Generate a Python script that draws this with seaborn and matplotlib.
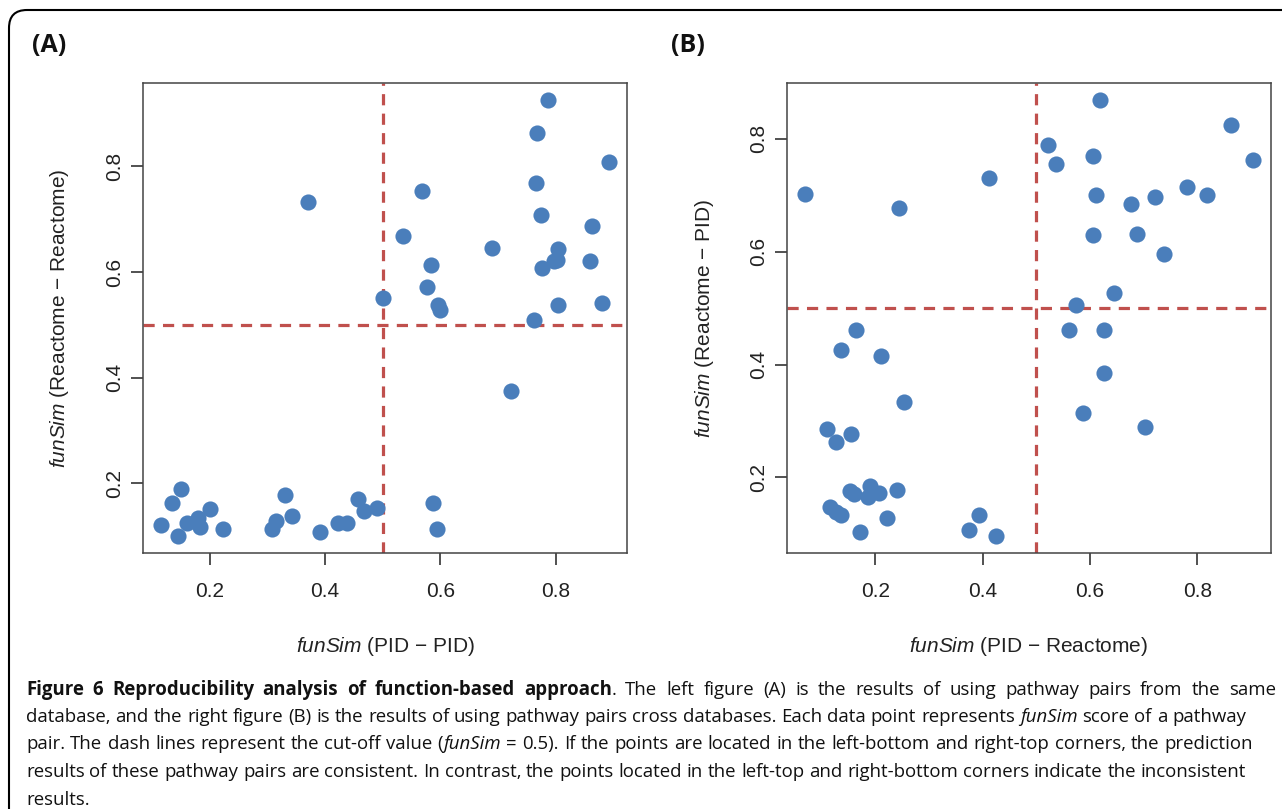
import re
import numpy as np
import pandas as pd
import seaborn as sns
import matplotlib.pyplot as plt
from matplotlib.patches import FancyBboxPatch
from matplotlib.transforms import IdentityTransform, blended_transform_factory
from matplotlib.textpath import TextToPath
from matplotlib.font_manager import FontProperties

# panel A: pathway pairs from the same database
a_x = [0.787, 0.768, 0.893, 0.767, 0.569, 0.371, 0.774, 0.863, 0.535, 0.690,
       0.804, 0.803, 0.798, 0.776, 0.584, 0.860, 0.577, 0.500, 0.596, 0.599,
       0.805, 0.880, 0.763, 0.722,
       0.150, 0.135, 0.201, 0.115, 0.144, 0.161, 0.180, 0.183, 0.223, 0.331,
       0.314, 0.308, 0.343, 0.391, 0.422, 0.438, 0.457, 0.467, 0.490, 0.588,
       0.595]
a_y = [0.925, 0.864, 0.809, 0.769, 0.753, 0.733, 0.708, 0.687, 0.668, 0.645,
       0.643, 0.622, 0.621, 0.607, 0.613, 0.620, 0.571, 0.550, 0.537, 0.529,
       0.537, 0.542, 0.509, 0.375,
       0.190, 0.162, 0.152, 0.122, 0.101, 0.124, 0.134, 0.118, 0.114, 0.177,
       0.128, 0.114, 0.139, 0.108, 0.124, 0.124, 0.170, 0.148, 0.153, 0.162,
       0.114]

# panel B: pathway pairs across databases
b_x = [0.618, 0.862, 0.522, 0.606, 0.536, 0.904, 0.412, 0.069, 0.245, 0.780,
       0.612, 0.722, 0.819, 0.676, 0.606, 0.687, 0.738, 0.645, 0.575, 0.165,
       0.561, 0.626, 0.136, 0.210, 0.627, 0.254, 0.587, 0.702, 0.111, 0.155,
       0.126, 0.153, 0.161, 0.191, 0.186, 0.207, 0.240, 0.116, 0.126, 0.136,
       0.222, 0.171, 0.393, 0.375, 0.425]
b_y = [0.868, 0.824, 0.789, 0.770, 0.756, 0.762, 0.730, 0.703, 0.677, 0.714,
       0.701, 0.697, 0.701, 0.685, 0.630, 0.632, 0.596, 0.526, 0.505, 0.462,
       0.462, 0.462, 0.425, 0.416, 0.385, 0.334, 0.314, 0.290, 0.286, 0.277,
       0.262, 0.176, 0.170, 0.185, 0.165, 0.173, 0.178, 0.147, 0.139, 0.133,
       0.128, 0.103, 0.134, 0.107, 0.097]

ticks = [0.2, 0.4, 0.6, 0.8]
tick_labels = ["0.2", "0.4", "0.6", "0.8"]
cutoff = 0.5

panels = [
    ("(A)", a_x, a_y, "(PID \u2212 PID)", "(Reactome \u2212 Reactome)"),
    ("(B)", b_x, b_y, "(PID \u2212 Reactome)", "(Reactome \u2212 PID)"),
]

W, H = 1282, 809
PT = "#4a7ebb"
RED = "#c0504d"
TICK_PX = 12

sns.set_theme(style="ticks")
plt.rcParams["font.family"] = ["Liberation Sans", "DejaVu Sans"]
plt.rcParams["mathtext.fontset"] = "custom"
plt.rcParams["mathtext.it"] = "Liberation Sans:italic"
plt.rcParams["mathtext.rm"] = "Liberation Sans"

fig = plt.figure(figsize=(W / 100, H / 100), dpi=100)
fig.patch.set_facecolor("white")

# rounded frame round the whole figure
frame = FancyBboxPatch((9, -40), 1320, H - 10 + 40,
                       boxstyle="round,pad=0,rounding_size=18",
                       transform=IdentityTransform(), fill=False,
                       edgecolor="black", linewidth=1.5)
fig.add_artist(frame)

lefts = [143, 787]
for (tag, xs, ys, xl, yl), left in zip(panels, lefts):
    ax = fig.add_axes([left / W, 1 - 553 / H, 484 / W, 470 / H])
    df = pd.DataFrame({"x": xs, "y": ys})
    ax.axvline(cutoff, color=RED, lw=2.3, ls=(0, (3.5, 2.6)), zorder=1)
    ax.axhline(cutoff, color=RED, lw=2.3, ls=(0, (3.5, 2.6)), zorder=1)
    sns.scatterplot(data=df, x="x", y="y", ax=ax, s=135, color=PT,
                    linewidth=0, zorder=3)

    # R style: 4% padding around the data range
    xr = max(xs) - min(xs)
    yr = max(ys) - min(ys)
    ax.set_xlim(min(xs) - 0.04 * xr, max(xs) + 0.04 * xr)
    ax.set_ylim(min(ys) - 0.04 * yr, max(ys) + 0.04 * yr)

    ax.set_xticks(ticks)
    ax.set_xticklabels(tick_labels)
    ax.set_yticks(ticks)
    ax.set_yticklabels(tick_labels, rotation=90, va="center")
    # built-in tick marks get lost next to the caption, so draw them as lines
    ax.tick_params(axis="both", which="major", length=0,
                   labelsize=15, labelcolor="#222222")
    ax.tick_params(axis="x", pad=12 + TICK_PX * 0.72)
    ax.tick_params(axis="y", pad=5 + TICK_PX * 0.72)
    tx = blended_transform_factory(ax.transData, ax.transAxes)
    ty = blended_transform_factory(ax.transAxes, ax.transData)
    for v in ticks:
        ax.plot([v, v], [0, -TICK_PX / 470], transform=tx, clip_on=False,
                color="#333333", lw=1.2, solid_capstyle="butt")
        ax.plot([0, -TICK_PX / 484], [v, v], transform=ty, clip_on=False,
                color="#333333", lw=1.2, solid_capstyle="butt")
    for sp in ax.spines.values():
        sp.set_visible(True)
        sp.set_color("#444444")
        sp.set_linewidth(1.1)

    ax.set_xlabel(r"$\mathit{funSim}$ " + xl, fontsize=15, color="#222222",
                  va="center")
    ax.set_ylabel(r"$\mathit{funSim}$ " + yl, fontsize=15, color="#222222",
                  va="center")
    ax.xaxis.set_label_coords(0.5, -(647 - 553) / 470)
    ax.yaxis.set_label_coords(-(left - (60 if left < 500 else 704)) / 484, 0.5)

    fig.text((49 if left < 500 else 688) / W, 1 - 46 / H, tag,
             family=["Open Sans", "DejaVu Sans"], weight="bold", fontsize=18,
             ha="center", va="center", color="#111111")

# caption
CAP = "Open Sans"
caption = [
    [("Figure 6 Reproducibility analysis of function-based approach", "bold", "normal"),
     (". The left figure (A) is the results of using pathway pairs from the same", "normal", "normal")],
    [("database, and the right figure (B) is the results of using pathway pairs cross databases. Each data point represents ", "normal", "normal"),
     ("funSim", "normal", "italic"),
     (" score of a pathway", "normal", "normal")],
    [("pair. The dash lines represent the cut-off value (", "normal", "normal"),
     ("funSim", "normal", "italic"),
     (" = 0.5). If the points are located in the left-bottom and right-top corners, the prediction", "normal", "normal")],
    [("results of these pathway pairs are consistent. In contrast, the points located in the left-top and right-bottom corners indicate the inconsistent", "normal", "normal")],
    [("results.", "normal", "normal")],
]
baselines = [695, 722, 749, 777, 805]
line_ends = [1276, 1246, 1253, 1246, None]
cap_x0 = 26

ttp = TextToPath()


def seg_width(text, weight, style, size):
    # advance width in pixels, measured without a renderer
    prop = FontProperties(family=CAP, weight=weight, style=style, size=size)
    w1 = ttp.get_text_width_height_descent(text + "x", prop, ismath=False)[0]
    w2 = ttp.get_text_width_height_descent("x", prop, ismath=False)[0]
    return (w1 - w2) * fig.dpi / 72


def tokens(line):
    out = []
    for t, wt, st in line:
        for tok in re.findall(r"\S+| ", t):
            out.append((tok, wt, st))
    return out


sizes = []
for line, end in zip(caption, line_ends):
    if end is None:
        continue
    w10 = sum(seg_width(t, wt, st, 10) for t, wt, st in line)
    sizes.append(10 * (end - cap_x0) / w10)
cap_size = min(sizes)

for line, yb, end in zip(caption, baselines, line_ends):
    toks = tokens(line)
    widths = [seg_width(t, wt, st, cap_size) for t, wt, st in toks]
    n_sp = sum(1 for t, _, _ in toks if t == " ")
    extra = 0.0
    if end is not None and n_sp:
        extra = max(0.0, (end - cap_x0 - sum(widths)) / n_sp)
    x = cap_x0
    for (t, wt, st), w in zip(toks, widths):
        if t == " ":
            x += w + extra
            continue
        fig.text(x / W, 1 - yb / H, t, family=CAP, weight=wt, style=st,
                 fontsize=cap_size, ha="left", va="baseline", color="#111111")
        x += w

fig.savefig("out.png", dpi=100)
